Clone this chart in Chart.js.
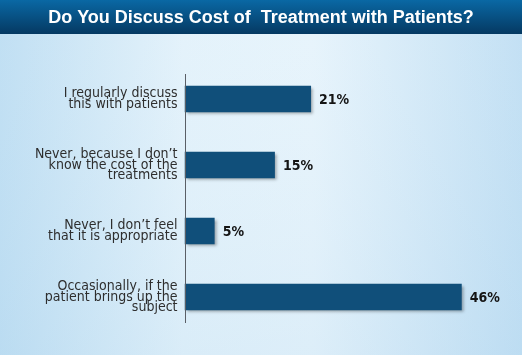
<!DOCTYPE html>
<html>
<head>
<meta charset="utf-8">
<script src="https://cdn.jsdelivr.net/npm/chart.js@4.4.1/dist/chart.umd.min.js"></script>
<style>
html,body{margin:0;padding:0;background:#d6ecf8;}
#wrap{width:522px;height:355px;position:relative;}
</style>
</head>
<body>
<div id="wrap"><canvas id="c" width="522" height="355"></canvas></div>
<script>
const titleText = "Do You Discuss Cost of  Treatment with Patients?";
const categories = [
  ["I regularly discuss", "this with patients"],
  ["Never, because I don\u2019t", "know the cost of the", "treatments"],
  ["Never, I don\u2019t feel", "that it is appropriate"],
  ["Occasionally, if the", "patient brings up the", "subject"]
];
const values = [21, 15, 5, 46];
const valueLabels = ["21%", "15%", "5%", "46%"];
const axisMax = 56;

const bgPlugin = {
  id: 'bg',
  beforeDraw(chart) {
    const ctx = chart.ctx, w = chart.width, h = chart.height;
    ctx.save();
    const g = ctx.createLinearGradient(0, 0, w, 0);
    g.addColorStop(0, '#b6daf1');
    g.addColorStop(0.35, '#dff0fa');
    g.addColorStop(0.6, '#e3f2fb');
    g.addColorStop(1, '#b9dbf2');
    ctx.fillStyle = g;
    ctx.fillRect(0, 0, w, h);
    const g2 = ctx.createLinearGradient(0, 34, 0, h);
    g2.addColorStop(0, 'rgba(255,255,255,0.15)');
    g2.addColorStop(1, 'rgba(200,225,242,0.25)');
    ctx.fillStyle = g2;
    ctx.fillRect(0, 34, w, h - 34);
    const tg = ctx.createLinearGradient(0, 0, 0, 34);
    tg.addColorStop(0, '#0a68a4');
    tg.addColorStop(1, '#053962');
    ctx.fillStyle = tg;
    ctx.fillRect(0, 0, w, 34);
    ctx.restore();
  },
  afterDraw(chart) {
    const ctx = chart.ctx;
    const x = Math.round(chart.chartArea.left) + 0.5;
    ctx.save();
    ctx.strokeStyle = '#5a5f66';
    ctx.lineWidth = 1;
    ctx.beginPath();
    ctx.moveTo(x, chart.chartArea.top + 8);
    ctx.lineTo(x, chart.chartArea.bottom - 7);
    ctx.stroke();
    ctx.restore();
  }
};

const shadowPlugin = {
  id: 'shadow',
  beforeDatasetsDraw(chart) {
    const ctx = chart.ctx;
    ctx.save();
    ctx.shadowColor = 'rgba(0,0,0,0.35)';
    ctx.shadowBlur = 3;
    ctx.shadowOffsetX = 2;
    ctx.shadowOffsetY = 2;
  },
  afterDatasetsDraw(chart) {
    chart.ctx.restore();
  }
};

const valuePlugin = {
  id: 'vals',
  afterDatasetsDraw(chart) {
    const ctx = chart.ctx;
    const meta = chart.getDatasetMeta(0);
    ctx.save();
    ctx.font = "bold 14px 'DejaVu Sans Condensed', 'Liberation Sans', Arial, sans-serif";
    ctx.fillStyle = '#141414';
    ctx.textAlign = 'left';
    ctx.textBaseline = 'middle';
    meta.data.forEach((bar, i) => {
      ctx.fillText(valueLabels[i], bar.x + 8, bar.y + 1);
    });
    ctx.restore();
  }
};

const ctx = document.getElementById('c').getContext('2d');

new Chart(ctx, {
  type: 'bar',
  data: {
    labels: categories,
    datasets: [{
      data: values,
      backgroundColor: (c) => {
        const el = c.element;
        const chart = c.chart;
        if (!el || el.y === undefined) return '#104f7a';
        const top = el.y - el.height / 2, bot = el.y + el.height / 2;
        if (!isFinite(top) || !isFinite(bot) || top === bot) return '#104f7a';
        const g = chart.ctx.createLinearGradient(0, top, 0, bot);
        g.addColorStop(0, '#083f68');
        g.addColorStop(1, '#1a6392');
        return g;
      },
      borderWidth: 0,
      barPercentage: 0.4,
      categoryPercentage: 1.0
    }]
  },
  plugins: [bgPlugin, shadowPlugin, valuePlugin],
  options: {
    indexAxis: 'y',
    responsive: false,
    animation: false,
    devicePixelRatio: 1,
    layout: { padding: { left: 0, right: 0, top: 0, bottom: 25 } },
    plugins: {
      legend: { display: false },
      tooltip: { enabled: false },
      title: {
        display: true,
        text: titleText,
        color: '#ffffff',
        font: { family: "'Liberation Sans', Arial, sans-serif", size: 18, weight: 'bold', lineHeight: '20px' },
        padding: { top: 8, bottom: 38 }
      }
    },
    scales: {
      x: {
        display: false,
        min: 0,
        max: axisMax
      },
      y: {
        offset: true,
        grid: { display: false, drawTicks: false },
        border: { display: false },
        afterFit(scale) { scale.width = 184.5; },
        ticks: {
          color: '#2e2e2e',
          padding: 7,
          font: { family: "'DejaVu Sans Condensed', 'Liberation Sans', Arial, sans-serif", size: 14, lineHeight: '10.5px' }
        }
      }
    }
  }
});
</script>
</body>
</html>
